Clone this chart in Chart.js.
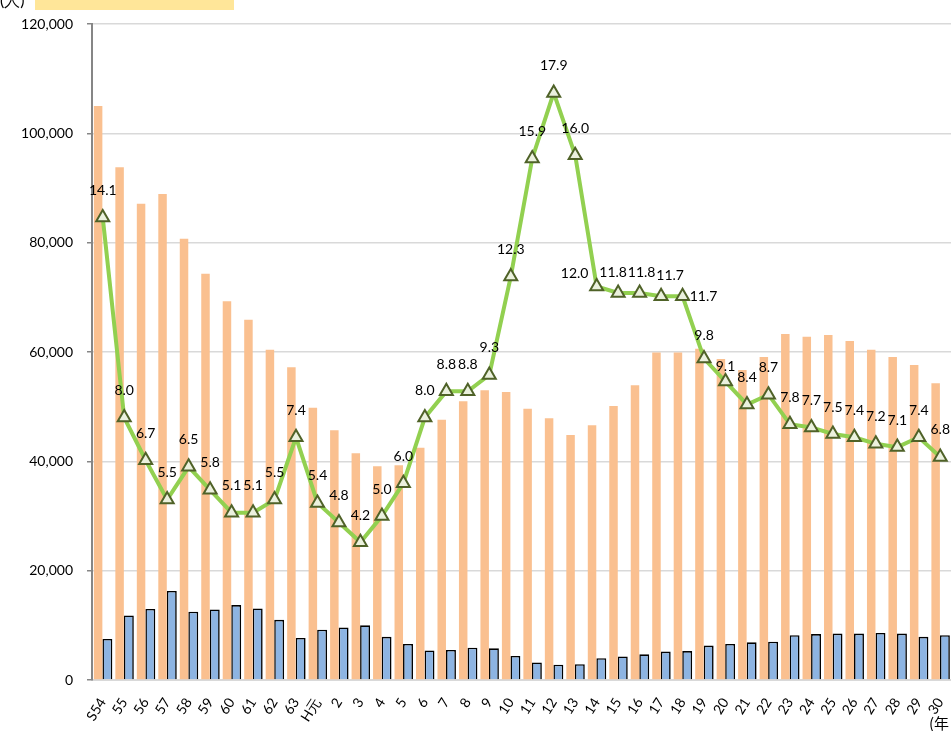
<!DOCTYPE html>
<html>
<head>
<meta charset="utf-8">
<script src="https://cdn.jsdelivr.net/npm/chart.js@4/dist/chart.umd.min.js"></script>
<style>
    html, body { margin: 0; padding: 0; background: #fff; overflow: hidden; }
    #wrap { position: relative; width: 951px; height: 731px; }
    #unit { position: absolute; left: 0; top: -10px; font: 16px Lato, sans-serif; color: #000; }
    #band { position: absolute; left: 35px; top: 0; width: 199px; height: 10px; background: #ffe699; }
    #year { position: absolute; left: 929px; top: 712px; font: 15px "Noto Sans CJK JP", sans-serif; color: #000; white-space: nowrap; }
</style>
</head>
<body>
<div id="wrap">
    <canvas id="chart"></canvas>
    <div id="unit">(人)</div>
    <div id="band"></div>
    <div id="year">(年</div>
</div>
<script>
const years = [
    'S54', '55', '56', '57', '58', '59', '60', '61', '62', '63',
    'H元', '2', '3', '4', '5', '6', '7', '8', '9', '10',
    '11', '12', '13', '14', '15', '16', '17', '18', '19', '20',
    '21', '22', '23', '24', '25', '26', '27', '28', '29', '30',
];

// orange bars (人)
const totalPersons = [
    105000, 93800, 87100, 88900, 80700, 74300, 69300, 65900, 60400, 57200,
    49800, 45700, 41500, 39100, 39300, 42500, 47600, 51000, 53000, 52700,
    49600, 47900, 44800, 46600, 50100, 53900, 59900, 59900, 60600, 58700,
    56700, 59100, 63300, 62800, 63100, 62000, 60400, 59100, 57600, 54300,
];

// blue bars (人)
const subPersons = [
    7500, 11800, 13000, 16300, 12500, 12900, 13700, 13100, 11000, 7700,
    9200, 9600, 10000, 7900, 6600, 5400, 5500, 5900, 5800, 4400,
    3200, 2800, 2900, 4000, 4300, 4700, 5200, 5300, 6300, 6600,
    6900, 7000, 8200, 8400, 8500, 8500, 8600, 8500, 7900, 8200,
];

// green line (ratio, right-hand scale 0-20, hidden)
const ratio = [
    14.1, 8.0, 6.7, 5.5, 6.5, 5.8, 5.1, 5.1, 5.5, 7.4,
    5.4, 4.8, 4.2, 5.0, 6.0, 8.0, 8.8, 8.8, 9.3, 12.3,
    15.9, 17.9, 16.0, 12.0, 11.8, 11.8, 11.7, 11.7, 9.8, 9.1,
    8.4, 8.7, 7.8, 7.7, 7.5, 7.4, 7.2, 7.1, 7.4, 6.8,
];

const FONT = 'Lato, sans-serif';

// where a label sits relative to its point, default is straight above
const labelShift = {
    23: [-22, -13],
    24: [-5, -20],
    25: [2, -20],
    26: [9, -21],
    27: [21, 0],
    28: [0, -23],
    29: [0, -15],
};

const lineLabels = {
    id: 'lineLabels',
    afterDatasetsDraw(chart) {
        const meta = chart.getDatasetMeta(2);
        const ctx = chart.ctx;
        ctx.save();
        ctx.font = '14px ' + FONT;
        ctx.fillStyle = '#000';
        ctx.textAlign = 'center';
        ctx.textBaseline = 'middle';
        meta.data.forEach((pt, i) => {
            const [dx, dy] = labelShift[i] ?? [0, -27];
            ctx.fillText(ratio[i].toFixed(1), pt.x + dx, pt.y + dy);
        });
        ctx.restore();
    },
};

new Chart(document.getElementById('chart'), {
    data: {
        labels: years,
        datasets: [
            {
                type: 'bar',
                data: totalPersons,
                backgroundColor: '#fac090',
                borderWidth: 0,
                categoryPercentage: 0.86,
                barPercentage: 0.92,
                order: 1,
            },
            {
                type: 'bar',
                data: subPersons,
                backgroundColor: '#8db4e2',
                borderColor: '#000',
                borderWidth: 1.6,
                categoryPercentage: 0.86,
                barPercentage: 1.08,
                order: 1,
            },
            {
                type: 'line',
                data: ratio,
                yAxisID: 'y1',
                borderColor: '#92d050',
                borderWidth: 4,
                pointStyle: 'triangle',
                pointRadius: 7.5,
                pointBackgroundColor: '#ebf1de',
                pointBorderColor: '#4f6228',
                pointBorderWidth: 2,
                tension: 0,
                clip: false,
                order: 0,
            },
        ],
    },
    options: {
        responsive: true,
        maintainAspectRatio: false,
        animation: false,
        layout: {
            autoPadding: false,
            padding: { top: 24, right: 0, left: 0, bottom: 0 },
        },
        plugins: {
            legend: { display: false },
            tooltip: { enabled: false },
        },
        scales: {
            x: {
                grid: { display: false },
                border: { display: true, color: '#d9d9d9', width: 2 },
                ticks: {
                    autoSkip: false,
                    minRotation: 58,
                    maxRotation: 58,
                    padding: 7,
                    color: '#000',
                    font: { family: FONT, size: 14 },
                },
                afterFit(scale) {
                    scale.height = 51;
                    scale.paddingRight = 0;
                    scale.paddingLeft = 0;
                },
            },
            y: {
                min: 0,
                max: 120000,
                ticks: {
                    stepSize: 20000,
                    padding: 14,
                    color: '#000',
                    font: { family: FONT, size: 14 },
                    callback: (v) => v.toLocaleString('en-US'),
                },
                grid: {
                    color: '#d9d9d9',
                    lineWidth: 1.5,
                    tickLength: 5,
                    tickColor: '#868686',
                },
                border: { color: '#868686', width: 2 },
                afterFit(scale) { scale.width = 92; },
            },
            y1: {
                display: false,
                min: 0,
                max: 20,
            },
        },
    },
    plugins: [lineLabels],
});
</script>
</body>
</html>
